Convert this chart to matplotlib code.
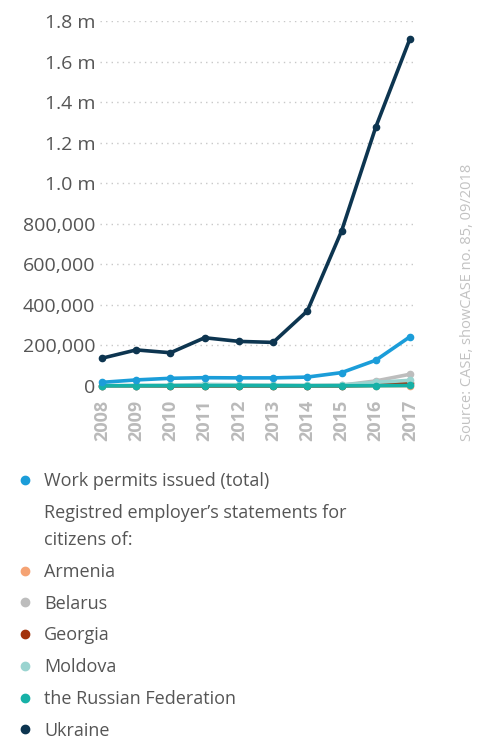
import matplotlib.pyplot as plt
from matplotlib.lines import Line2D
from matplotlib.ticker import FuncFormatter

plt.rcParams['font.family'] = ['Open Sans', 'DejaVu Sans']

# Data
years = [2008, 2009, 2010, 2011, 2012, 2013, 2014, 2015, 2016, 2017]
work_permits = [18000, 30000, 38000, 41000, 40000, 40000, 44000, 66000, 127000, 243000]
armenia = [1000, 1000, 1000, 1000, 1000, 1000, 1000, 1000, 1500, 2000]
belarus = [1000, 2000, 2500, 3000, 3000, 3000, 2000, 4000, 25000, 58000]
georgia = [500, 500, 500, 500, 500, 500, 500, 1000, 4000, 14000]
moldova = [1000, 2000, 3000, 8000, 6000, 5000, 3000, 5000, 18000, 28000]
russia = [1000, 1500, 1500, 1500, 1500, 1000, 1000, 1000, 1500, 2500]
ukraine = [137000, 178000, 164000, 238000, 220000, 215000, 370000, 764000, 1277000, 1713000]

y_ticks = [0, 200000, 400000, 600000, 800000, 1000000, 1200000, 1400000, 1600000, 1800000]

series = [
    ('Armenia', armenia, '#f5a374'),
    ('Belarus', belarus, '#bdbdbd'),
    ('Georgia', georgia, '#a3320b'),
    ('Moldova', moldova, '#9ad4d0'),
    ('the Russian Federation', russia, '#17b1a7'),
    ('Work permits issued (total)', work_permits, '#1b9dd9'),
    ('Ukraine', ukraine, '#0d3550'),
]

fig = plt.figure(figsize=(4.9, 7.42), dpi=100)
ax = fig.add_axes([100 / 490, 1 - 386 / 742, 313 / 490, 365 / 742])

handles = {}
for name, vals, col in series:
    ln, = ax.plot(years, vals, color=col, lw=2.6, marker='o', markersize=4.5,
                  clip_on=False, solid_capstyle='round')
    handles[name] = ln

ax.set_xlim(2008 - 2 / 34.2, 2017 + 3 / 34.2)
ax.set_ylim(0, 1800000)
ax.set_yticks(y_ticks)


def fmt(v, pos):
    if v >= 1000000:
        return '%.1f m' % (v / 1e6)
    return '{:,.0f}'.format(v)


ax.yaxis.set_major_formatter(FuncFormatter(fmt))
ax.set_xticks(years)
ax.set_xticklabels([str(y) for y in years], rotation=90, color='#bababa',
                   fontsize=13, fontweight='bold')
ax.tick_params(axis='y', length=0, pad=3.5, labelsize=14, labelcolor='#555555')
ax.tick_params(axis='x', length=0, pad=10)
ax.grid(axis='y', color='#c8c8c8', linestyle=(0, (1, 3)), lw=1)
ax.set_axisbelow(True)
for s in ax.spines.values():
    s.set_visible(False)

fig.text(467 / 490, 1 - 302 / 742, 'Source: CASE, showCASE no. 85, 09/2018',
         rotation=90, ha='center', va='center', fontsize=10.5, color='#c2c2c2')

# legend below the chart
order = ['Work permits issued (total)', None, 'Armenia', 'Belarus', 'Georgia',
         'Moldova', 'the Russian Federation', 'Ukraine']
leg_handles = []
leg_labels = []
for name in order:
    if name is None:
        leg_handles.append(Line2D([], [], linestyle='none', marker='none'))
        leg_labels.append('Registred employer\u2019s statements for\ncitizens of:')
    else:
        col = handles[name].get_color()
        leg_handles.append(Line2D([], [], linestyle='none', marker='o',
                                  markersize=6, color=col))
        leg_labels.append(name)

leg = fig.legend(leg_handles, leg_labels, loc='upper left',
                 bbox_to_anchor=(6 / 490, 1 - 463 / 742), frameon=False,
                 fontsize=13, labelcolor='#555555', handlelength=1.1,
                 handletextpad=0.5, labelspacing=0.76, borderpad=0)
for t in leg.get_texts():
    t.set_linespacing(1.68)

fig.savefig('out.png', dpi=100)
